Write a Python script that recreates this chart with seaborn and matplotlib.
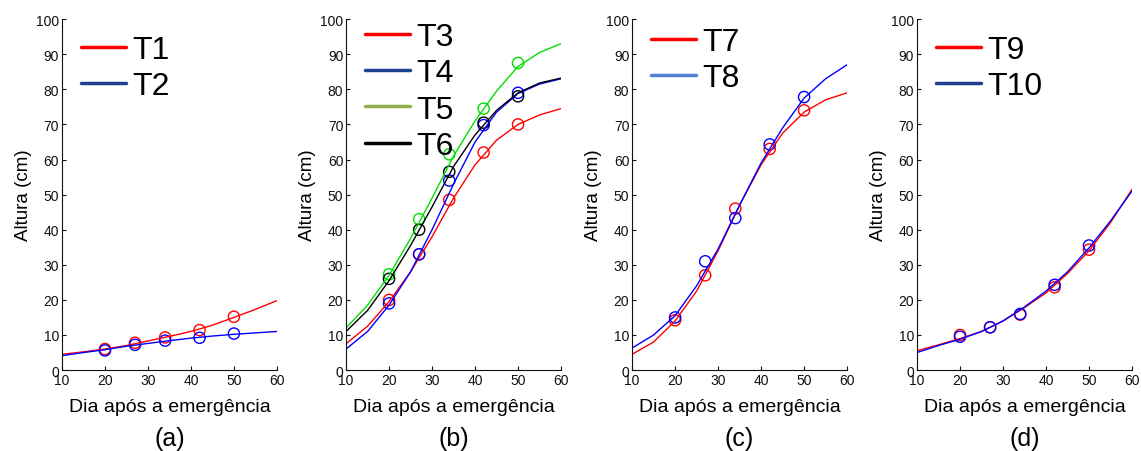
import numpy as np
import pandas as pd
import matplotlib
matplotlib.use("Agg")
import matplotlib.pyplot as plt
import seaborn as sns
from matplotlib.lines import Line2D

days_curve = [10, 15, 20, 25, 30, 35, 40, 45, 50, 55, 60]
# Days of the field observations (circles)
days_obs = [20, 27, 34, 42, 50]

# Panel (a)
t1_curve = [4.5, 5.2, 6.0, 7.0, 8.3, 9.6, 11.0, 12.8, 15.0, 17.3, 19.8]
t1_obs = [6.0, 7.8, 9.3, 11.4, 15.2]
t2_curve = [4.1, 5.0, 5.8, 6.8, 7.6, 8.4, 9.1, 9.7, 10.2, 10.6, 11.0]
t2_obs = [5.6, 7.2, 8.4, 9.2, 10.4]

# Panel (b)
t3_curve = [7.5, 12.5, 19.5, 28.0, 38.0, 49.0, 58.5, 65.5, 70.0, 72.7, 74.5]
t3_obs = [20.0, 33.0, 48.5, 62.0, 70.0]
t4_curve = [6.0, 11.0, 18.5, 28.0, 40.0, 53.0, 65.0, 73.5, 78.8, 81.5, 83.0]
t4_obs = [19.0, 33.0, 54.0, 69.8, 79.0]
t5_curve = [12.0, 18.5, 27.0, 37.5, 49.0, 61.0, 71.0, 79.5, 86.5, 90.5, 93.0]
t5_obs = [27.3, 43.0, 61.5, 74.5, 87.5]
t6_curve = [11.0, 17.0, 25.5, 35.5, 46.5, 58.0, 67.0, 74.0, 79.0, 81.8, 83.2]
t6_obs = [26.0, 40.0, 56.5, 70.5, 78.0]

# Panel (c)
t7_curve = [4.5, 8.0, 14.0, 22.5, 34.0, 47.0, 58.5, 67.5, 73.5, 77.0, 79.0]
t7_obs = [14.2, 27.0, 46.0, 63.0, 74.0]
t8_curve = [6.3, 10.0, 15.5, 24.0, 34.5, 47.0, 59.0, 69.0, 77.5, 83.0, 87.0]
t8_obs = [15.0, 31.0, 43.3, 64.3, 77.8]

# Panel (d)
t9_curve = [5.5, 7.2, 9.0, 11.0, 14.0, 17.8, 22.0, 27.5, 34.0, 42.0, 51.5]
t9_obs = [10.0, 12.2, 15.8, 23.6, 34.3]
t10_curve = [5.0, 7.0, 8.8, 11.0, 14.0, 18.0, 22.5, 28.0, 34.8, 42.5, 51.0]
t10_obs = [9.5, 12.2, 16.0, 24.3, 35.5]

panel_tags = ["(a)", "(b)", "(c)", "(d)"]

panels = [
    [("T1", t1_curve, t1_obs, "#ff0000", "#ff0000"),
     ("T2", t2_curve, t2_obs, "#0000ff", "#1f3f8f")],
    [("T3", t3_curve, t3_obs, "#ff0000", "#ff0000"),
     ("T4", t4_curve, t4_obs, "#0000ff", "#1f3f8f"),
     ("T5", t5_curve, t5_obs, "#00e000", "#8db04a"),
     ("T6", t6_curve, t6_obs, "#000000", "#000000")],
    [("T7", t7_curve, t7_obs, "#ff0000", "#ff0000"),
     ("T8", t8_curve, t8_obs, "#0000ff", "#4f7fd0")],
    [("T9", t9_curve, t9_obs, "#ff0000", "#ff0000"),
     ("T10", t10_curve, t10_obs, "#0000ff", "#1f3f8f")],
]

sns.set_style("white")
plt.rcParams['font.family'] = ['Liberation Sans', 'DejaVu Sans']
plt.rcParams['text.color'] = 'black'
plt.rcParams['axes.labelcolor'] = 'black'

fig = plt.figure(figsize=(11.41, 4.52), dpi=100)
lefts = [0.0543, 0.3033, 0.554, 0.8037]
legend_y = [1.01, 1.047, 1.033, 1.01]

for i, series in enumerate(panels):
    ax = fig.add_axes([lefts[i], 0.179, 0.1884, 0.7765])
    handles = []
    for name, curve, obs, col, leg_col in series:
        sns.lineplot(x=days_curve, y=curve, ax=ax, color=col, linewidth=1)
        sns.scatterplot(x=days_obs, y=obs, ax=ax, marker="o", s=65,
                        facecolors="none", edgecolor=col, linewidth=1)
        handles.append(Line2D([0], [0], color=leg_col, linewidth=2.5, label=name))

    ax.set_xlim(10, 60)
    ax.set_ylim(0, 100)
    ax.set_xticks(range(10, 61, 10))
    ax.set_yticks(range(0, 101, 10))
    ax.tick_params(direction="in", length=3, labelsize=10, pad=2,
                   left=True, bottom=True, colors="#111111")
    for s in ["top", "right"]:
        ax.spines[s].set_visible(False)
    for s in ["left", "bottom"]:
        ax.spines[s].set_color("#111111")
        ax.spines[s].set_linewidth(0.8)

    ax.set_ylabel("Altura (cm)", fontsize=13.5, labelpad=3)
    ax.set_xlabel("Dia após a emergência", fontsize=14, labelpad=8)
    ax.text(0.5, -0.16, panel_tags[i], transform=ax.transAxes,
            ha="center", va="top", fontsize=18)

    ax.legend(handles=handles, loc="upper left", bbox_to_anchor=(0.0, legend_y[i]),
              frameon=False, fontsize=23, handlelength=1.4,
              handletextpad=0.2, labelspacing=0.2, borderaxespad=0.2)

plt.savefig("out.png", dpi=100)
plt.close()
